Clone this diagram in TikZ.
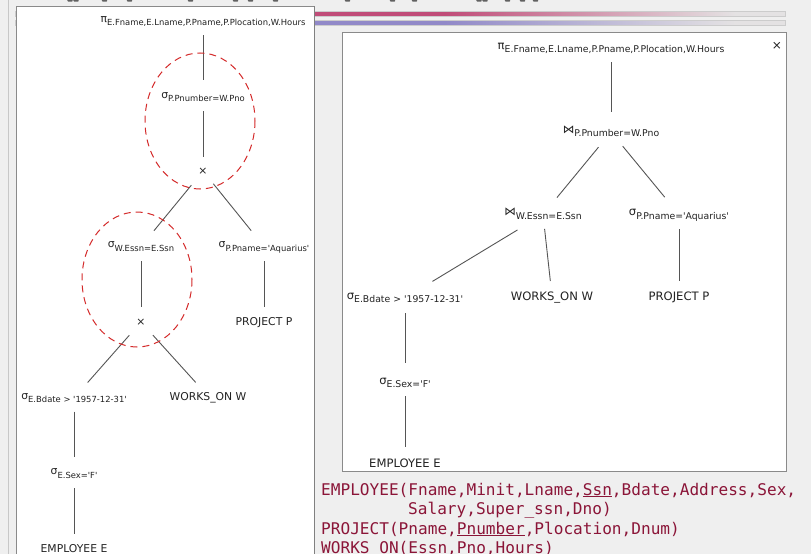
\documentclass[tikz,border=0pt]{standalone}
\usepackage{fontspec}
\setmainfont{DejaVu Sans}[Ligatures=TeXOff]
\newfontfamily\codefont{DejaVu Sans Mono}[Ligatures=TeXOff]

\definecolor{pagebg}{HTML}{EFEFEF}
\definecolor{txt}{HTML}{222222}
\definecolor{edgegray}{HTML}{555555}
\definecolor{markred}{HTML}{D42A2A}
\definecolor{winborder}{HTML}{8A8A8A}
\definecolor{codered}{HTML}{8B1538}
\definecolor{barrose}{HTML}{C04C78}
\definecolor{barviolet}{HTML}{9189C8}
\definecolor{barend}{HTML}{E4E2E3}

% operator with subscript: #1 symbol, #2 condition
\newcommand\tlabL[2]{{\fontsize{10.8}{12}\selectfont #1}\raisebox{-3.5pt}{\fontsize{8.4}{10}\selectfont #2}}
\newcommand\tlabR[2]{{\fontsize{11.6}{13}\selectfont #1}\raisebox{-3.8pt}{\fontsize{9.3}{11}\selectfont #2}}

\tikzset{
  opnode/.style={inner sep=0pt, text=txt, text height=6pt, text depth=4pt},
  relL/.style={inner sep=0pt, text=txt, text height=8pt, text depth=0pt, font=\fontsize{10.8}{12}\selectfont},
  relR/.style={inner sep=0pt, text=txt, text height=8pt, text depth=0pt, font=\fontsize{11.6}{13}\selectfont},
  prodL/.style={inner sep=0pt, text=txt, text height=6pt, text depth=0pt, font=\fontsize{10.8}{12}\selectfont},
  treeedge/.style={draw=edgegray, line width=0.9pt},
  window/.style={fill=white, draw=winborder, line width=1pt},
  joinmark/.style={draw=markred, line width=1pt, dash pattern=on 7pt off 5pt},
  codeline/.style={anchor=base west, inner sep=0pt, text=codered, font=\codefont\fontsize{16.1}{19}\selectfont}
}

\begin{document}
\begin{tikzpicture}[x=1pt,y=-1pt]
\useasboundingbox (0,0) rectangle (811,554);
\clip (0,0) rectangle (811,554);
\fill[pagebg] (0,0) rectangle (811,554);
\draw[draw=black!22, line width=1pt] (8.5,0) -- (8.5,554);

% feet of the slide title letters above the page edge
\foreach \gx in {70,76,104.5,129.5,190.5,235.5,250.5,275.5,347.5,392.5,414.5,479,485,507.5,522.5,535.5}
  \fill[black!62, rounded corners=0.8pt] (\gx-2.6,-1) rectangle (\gx+2.6,1.7);

% heading bars: solid, then fading to grey
\fill[barrose] (15,11) rectangle (445,16.5);
\shade[left color=barrose, right color=barend] (445,11) rectangle (735,16.5);
\fill[barend] (735,11) rectangle (785,16.5);
\draw[black!20, line width=0.6pt] (15,11) rectangle (785,16.5);
\fill[barviolet] (15,20) rectangle (445,25.5);
\shade[left color=barviolet, right color=barend] (445,20) rectangle (735,25.5);
\fill[barend] (735,20) rectangle (785,25.5);
\draw[black!20, line width=0.6pt] (15,20) rectangle (785,25.5);

% ---------------- left window: canonical tree ----------------
\draw[window] (16,6.5) rectangle (314,570);
\draw[draw=black!50, line width=1.6pt] (314.5,6) -- (314.5,570);

\node[opnode] (L1) at (203,21) {\tlabL{π}{E.Fname,E.Lname,P.Pname,P.Plocation,W.Hours}};
\node[opnode] (L2) at (203,97) {\tlabL{σ}{P.Pnumber=W.Pno}};
\node[prodL]  (L3) at (203,171) {×};
\node[opnode] (L4) at (141,246.5) {\tlabL{σ}{W.Essn=E.Ssn}};
\node[opnode] (L5) at (264,246.5) {\tlabL{σ}{P.Pname='Aquarius'}};
\node[prodL]  (L6) at (141,322) {×};
\node[relL]   (L7) at (264,321) {PROJECT P};
\node[opnode] (L8) at (74,398) {\tlabL{σ}{E.Bdate > '1957-12-31'}};
\node[relL]   (L9) at (208,396) {WORKS\_ON W};
\node[opnode] (L10) at (74,473.5) {\tlabL{σ}{E.Sex='F'}};
\node[relL]   (L11) at (74,548) {EMPLOYEE E};

\draw[treeedge, shorten <=14pt, shorten >=17pt] (L1.center) -- (L2.center);
\draw[treeedge, shorten <=14pt, shorten >=14pt] (L2.center) -- (L3.center);
\draw[treeedge, shorten <=18.3pt, shorten >=20.4pt] (L3.center) -- (L4.center);
\draw[treeedge, shorten <=16.4pt, shorten >=20.4pt] (L3.center) -- (L5.center);
\draw[treeedge, shorten <=14.5pt, shorten >=15pt] (L4.center) -- (L6.center);
\draw[treeedge, shorten <=14.5pt, shorten >=14pt] (L5.center) -- (L7.center);
\draw[treeedge, shorten <=17.7pt, shorten >=20.7pt] (L6.center) -- (L8.center);
\draw[treeedge, shorten <=17.7pt, shorten >=18.4pt] (L6.center) -- (L9.center);
\draw[treeedge, shorten <=13.5pt, shorten >=16.5pt] (L8.center) -- (L10.center);
\draw[treeedge, shorten <=14.5pt, shorten >=14pt] (L10.center) -- (L11.center);

% selection + product pairs that become joins
\draw[joinmark] (200,121) ellipse [x radius=55, y radius=68];
\draw[joinmark] (137,279.5) ellipse [x radius=55, y radius=67.5];

% ---------------- right window: optimised tree ----------------
\draw[window] (342,32) rectangle (786,471);
\node[inner sep=0pt, text=txt, font=\fontsize{12}{13}\selectfont] (close) at (777,45.5) {×};

\node[opnode] (R1) at (611,48) {\tlabR{π}{E.Fname,E.Lname,P.Pname,P.Plocation,W.Hours}};
\node[opnode] (R2) at (611,132) {\tlabR{⋈}{P.Pnumber=W.Pno}};
\node[opnode] (R3) at (543,214.5) {\tlabR{⋈}{W.Essn=E.Ssn}};
\node[opnode] (R4) at (679,214.5) {\tlabR{σ}{P.Pname='Aquarius'}};
\node[opnode] (R5) at (405,298) {\tlabR{σ}{E.Bdate > '1957-12-31'}};
\node[relR]   (R6) at (552,296) {WORKS\_ON W};
\node[relR]   (R7) at (679,296) {PROJECT P};
\node[opnode] (R8) at (405,383) {\tlabR{σ}{E.Sex='F'}};
\node[relR]   (R9) at (405,463) {EMPLOYEE E};

\draw[treeedge, shorten <=14pt, shorten >=20pt] (R1.center) -- (R2.center);
\draw[treeedge, shorten <=19.7pt, shorten >=21.9pt] (R2.center) -- (R3.center);
\draw[treeedge, shorten <=18.4pt, shorten >=22.5pt] (R2.center) -- (R4.center);
\draw[treeedge, shorten <=29.8pt, shorten >=32.1pt] (R3.center) -- (R5.center);
\draw[treeedge, shorten <=14.5pt, shorten >=15.1pt] (R3.center) -- (R6.center);
\draw[treeedge, shorten <=14.5pt, shorten >=15pt] (R4.center) -- (R7.center);
\draw[treeedge, shorten <=15pt, shorten >=20pt] (R5.center) -- (R8.center);
\draw[treeedge, shorten <=13pt, shorten >=16pt] (R8.center) -- (R9.center);

% ---------------- schema ----------------
\node[codeline] (s1) at (321,495) {EMPLOYEE(Fname,Minit,Lname,\underline{Ssn},Bdate,Address,Sex,};
\node[codeline] (s2) at (408,514.5) {Salary,Super\_ssn,Dno)};
\node[codeline] (s3) at (321,534) {PROJECT(Pname,\underline{Pnumber},Plocation,Dnum)};
\node[codeline] (s4) at (321,553.5) {WORKS\_ON(Essn,Pno,Hours)};
\end{tikzpicture}
\end{document}
